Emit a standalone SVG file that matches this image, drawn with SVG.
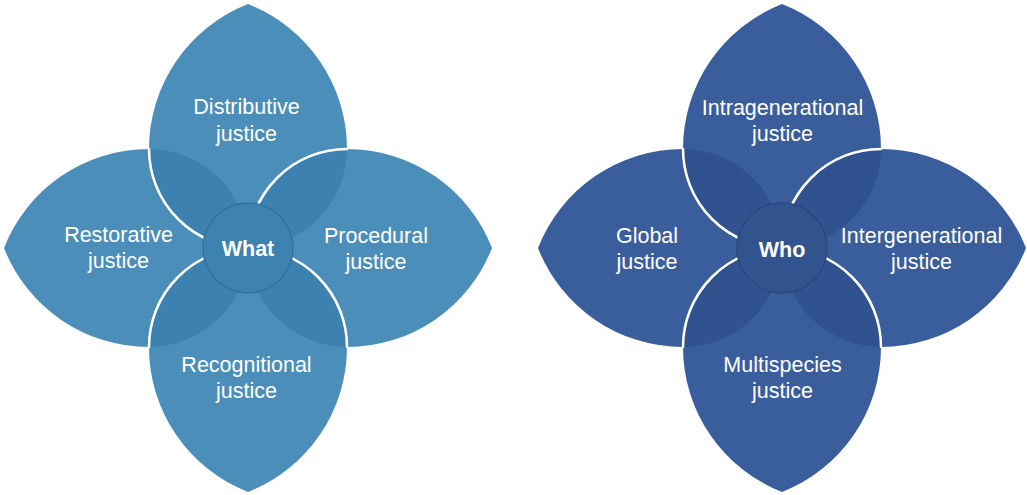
<svg xmlns="http://www.w3.org/2000/svg" xmlns:xlink="http://www.w3.org/1999/xlink" width="1027" height="495" viewBox="0 0 1027 495">
  <style>
    .lbl { font-family: "Liberation Sans", Arial, Helvetica, sans-serif; font-size: 21.5px; fill: #ffffff; text-anchor: middle; }
    .hub-lbl { font-family: "Liberation Sans", Arial, Helvetica, sans-serif; font-size: 21.5px; font-weight: bold; fill: #ffffff; text-anchor: middle; }
    .what .petal { fill: #4b8eba; }
    .what .lens { fill: #3c81af; }
    .what .hub { fill: #3d82b0; stroke: #33739f; stroke-width: 1.5; }
    .who .petal { fill: #3a5e9c; }
    .who .lens { fill: #30538f; }
    .who .hub { fill: #31548f; stroke: #2a4981; stroke-width: 1.5; }
    .edge { fill: none; stroke: #ffffff; stroke-width: 2.5; stroke-linecap: round; }
  </style>
  <defs>
    <path id="petal" d="M -99,-99 A 99 99 0 0 0 99,-99 A 155.7 155.7 0 0 0 0,-244 A 155.7 155.7 0 0 0 -99,-99 Z"/>
    <path id="lens" d="M -99,-99 A 99 99 0 0 0 0,0 A 99 99 0 0 0 -99,-99 Z"/>
  </defs>

  <!-- WHAT flower -->
  <g id="what-flower" class="what" transform="translate(248,248)">
    <g id="restorative">
      <use href="#petal" class="petal" transform="rotate(-90)"/>
      <text class="lbl" x="-129.5" y="-6">Restorative</text>
      <text class="lbl" x="-129.5" y="20">justice</text>
    </g>
    <g id="distributive">
      <use href="#petal" class="petal"/>
      <text class="lbl" x="-1.5" y="-134">Distributive</text>
      <text class="lbl" x="-1.5" y="-107">justice</text>
    </g>
    <g id="procedural">
      <use href="#petal" class="petal" transform="rotate(90)"/>
      <text class="lbl" x="128" y="-5.5">Procedural</text>
      <text class="lbl" x="128" y="20.5">justice</text>
    </g>
    <g id="recognitional">
      <use href="#petal" class="petal" transform="rotate(180)"/>
      <text class="lbl" x="-1.5" y="123.5">Recognitional</text>
      <text class="lbl" x="-1.5" y="150">justice</text>
    </g>
    <g id="what-overlaps">
      <use href="#lens" class="lens"/>
      <use href="#lens" class="lens" transform="rotate(90)"/>
      <use href="#lens" class="lens" transform="rotate(180)"/>
      <use href="#lens" class="lens" transform="rotate(270)"/>
    </g>
    <g id="what-edges">
      <path class="edge" d="M -99,-99 A 99 99 0 0 0 0,0"/>
      <path class="edge" d="M 99,-99 A 99 99 0 0 0 0,0"/>
      <path class="edge" d="M -99,99 A 99 99 0 0 1 0,0"/>
      <path class="edge" d="M 99,99 A 99 99 0 0 0 0,0"/>
    </g>
    <g id="what">
      <circle class="hub" cx="0" cy="0" r="45"/>
      <text class="hub-lbl" x="0" y="8">What</text>
    </g>
  </g>

  <!-- WHO flower -->
  <g id="who-flower" class="who" transform="translate(782,248)">
    <g id="global">
      <use href="#petal" class="petal" transform="rotate(-90)"/>
      <text class="lbl" x="-135" y="-5.5">Global</text>
      <text class="lbl" x="-135" y="20.5">justice</text>
    </g>
    <g id="intragenerational">
      <use href="#petal" class="petal"/>
      <text class="lbl" x="0.5" y="-133">Intragenerational</text>
      <text class="lbl" x="0.5" y="-107">justice</text>
    </g>
    <g id="intergenerational">
      <use href="#petal" class="petal" transform="rotate(90)"/>
      <text class="lbl" x="139.5" y="-5.5">Intergenerational</text>
      <text class="lbl" x="139.5" y="20.5">justice</text>
    </g>
    <g id="multispecies">
      <use href="#petal" class="petal" transform="rotate(180)"/>
      <text class="lbl" x="0.5" y="123.5">Multispecies</text>
      <text class="lbl" x="0.5" y="150">justice</text>
    </g>
    <g id="who-overlaps">
      <use href="#lens" class="lens"/>
      <use href="#lens" class="lens" transform="rotate(90)"/>
      <use href="#lens" class="lens" transform="rotate(180)"/>
      <use href="#lens" class="lens" transform="rotate(270)"/>
    </g>
    <g id="who-edges">
      <path class="edge" d="M -99,-99 A 99 99 0 0 0 0,0"/>
      <path class="edge" d="M 99,-99 A 99 99 0 0 0 0,0"/>
      <path class="edge" d="M -99,99 A 99 99 0 0 1 0,0"/>
      <path class="edge" d="M 99,99 A 99 99 0 0 0 0,0"/>
    </g>
    <g id="who">
      <circle class="hub" cx="0" cy="0" r="45"/>
      <text class="hub-lbl" x="0" y="8.5">Who</text>
    </g>
  </g>
</svg>
